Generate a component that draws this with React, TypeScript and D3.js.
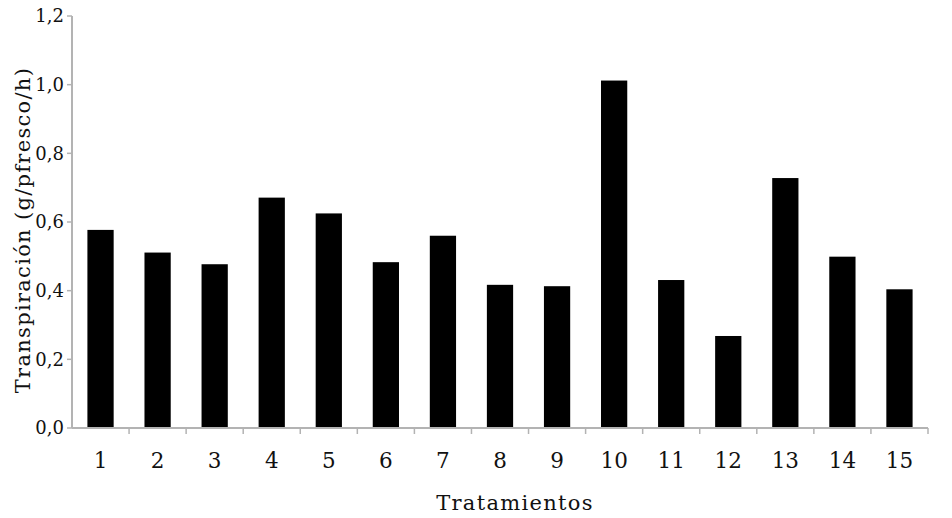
import React, { useRef, useEffect } from 'react';
import * as d3 from 'd3';

const categories = ['1', '2', '3', '4', '5', '6', '7', '8', '9', '10', '11', '12', '13', '14', '15'];
const values = [0.577, 0.511, 0.477, 0.671, 0.625, 0.483, 0.56, 0.417, 0.413, 1.012, 0.431, 0.268, 0.728, 0.499, 0.404];
const yTicks = [0, 0.2, 0.4, 0.6, 0.8, 1.0, 1.2];

const WIDTH = 952;
const HEIGHT = 518;
const margin = { top: 16, right: 24, bottom: 90, left: 72 };
const FONT = "'DejaVu Serif', serif";
const TEXT = '#111';

export default function App() {
  const svgRef = useRef<SVGSVGElement>(null);

  useEffect(() => {
    if (!svgRef.current) return;
    const svg = d3.select(svgRef.current);
    svg.selectAll('*').remove();

    const innerWidth = WIDTH - margin.left - margin.right;
    const innerHeight = HEIGHT - margin.top - margin.bottom;

    const x = d3.scaleBand().domain(categories).range([0, innerWidth]).paddingInner(0.54).paddingOuter(0.27);
    // band edges for tick marks
    const step = innerWidth / categories.length;
    const y = d3.scaleLinear().domain([0, 1.2]).range([innerHeight, 0]);

    const g = svg.append('g').attr('transform', `translate(${margin.left},${margin.top})`);

    // bars
    g.selectAll('.bar')
      .data(values)
      .enter()
      .append('rect')
      .attr('class', 'bar')
      .attr('x', (_, i) => x(categories[i]) || 0)
      .attr('y', d => y(d))
      .attr('width', x.bandwidth())
      .attr('height', d => innerHeight - y(d))
      .attr('fill', '#000');

    const axisColor = '#b3b3b3';

    // y axis
    g.append('line')
      .attr('x1', 0).attr('x2', 0)
      .attr('y1', 0).attr('y2', innerHeight)
      .attr('stroke', axisColor).attr('stroke-width', 2);
    g.selectAll('.ytick')
      .data(yTicks)
      .enter()
      .append('line')
      .attr('x1', -5).attr('x2', 0)
      .attr('y1', d => y(d)).attr('y2', d => y(d))
      .attr('stroke', axisColor).attr('stroke-width', 1.5);
    g.selectAll('.ylabel')
      .data(yTicks)
      .enter()
      .append('text')
      .attr('x', -8)
      .attr('y', d => y(d))
      .attr('dy', '0.35em')
      .attr('text-anchor', 'end')
      .attr('font-family', FONT)
      .attr('font-size', 18)
      .attr('fill', TEXT)
      .text(d => d3.format('.1f')(d).replace('.', ','));

    // x axis
    g.append('line')
      .attr('x1', 0).attr('x2', innerWidth)
      .attr('y1', innerHeight).attr('y2', innerHeight)
      .attr('stroke', axisColor).attr('stroke-width', 2);
    g.selectAll('.xtick')
      .data(d3.range(1, categories.length + 1))
      .enter()
      .append('line')
      .attr('x1', i => i * step).attr('x2', i => i * step)
      .attr('y1', innerHeight).attr('y2', innerHeight + 6)
      .attr('stroke', axisColor).attr('stroke-width', 1.5);
    g.selectAll('.xlabel')
      .data(categories)
      .enter()
      .append('text')
      .attr('x', d => (x(d) || 0) + x.bandwidth() / 2)
      .attr('y', innerHeight + 40)
      .attr('text-anchor', 'middle')
      .attr('font-family', FONT)
      .attr('font-size', 21.5)
      .attr('fill', TEXT)
      .text(d => d);

    // axis titles
    svg.append('text')
      .attr('x', 515)
      .attr('y', 510)
      .attr('text-anchor', 'middle')
      .attr('font-family', FONT)
      .attr('font-size', 21)
      .attr('letter-spacing', 1.3)
      .attr('fill', TEXT)
      .text('Tratamientos');

    svg.append('text')
      .attr('transform', `translate(30, 230) rotate(-90)`)
      .attr('text-anchor', 'middle')
      .attr('font-family', FONT)
      .attr('font-size', 21)
      .attr('letter-spacing', 1.3)
      .attr('fill', TEXT)
      .text('Transpiración (g/pfresco/h)');
  }, []);

  return (
    <div style={{ margin: -8, width: WIDTH, height: HEIGHT, background: '#fff' }}>
      <svg ref={svgRef} width={WIDTH} height={HEIGHT} style={{ display: 'block' }} />
    </div>
  );
}
